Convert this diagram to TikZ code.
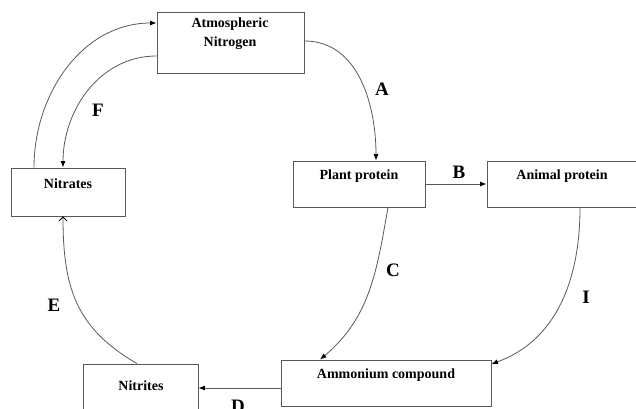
\documentclass[tikz,border=0pt]{standalone}
\usepackage{fontspec}
\setmainfont{Liberation Serif}
\usetikzlibrary{arrows.meta}
\begin{document}
\begin{tikzpicture}[x=1pt, y=1pt,
  box/.style={draw=black!65, line width=0.9pt, minimum width=#1, inner sep=0pt},
  txt/.style={font=\bfseries\fontsize{14}{19}\selectfont, align=center, inner sep=0pt},
  lbl/.style={font=\bfseries\fontsize{19}{19}\selectfont, inner sep=0pt},
  arr/.style={draw=black!65, line width=0.8pt, -{Latex[length=6.5pt,width=5pt,black]}},
  openarr/.style={draw=black!65, line width=0.8pt, -{Straight Barb[length=4pt,width=8pt,black]}}
]
  \useasboundingbox (0,0) rectangle (636,408);

  % --- Boxes ---
  \node[box=147pt, minimum height=61pt] (atm)      at (230.5,365.5) {};
  \node[box=114pt, minimum height=48pt] (nitrates) at (68,216)      {};
  \node[box=132pt, minimum height=46pt] (plant)    at (359,224)     {};
  \node[box=151pt, minimum height=46pt] (animal)   at (562.5,224)   {};
  \node[box=210pt, minimum height=46pt] (ammonium) at (386,25)      {};
  \node[box=115pt, minimum height=56pt] (nitrites) at (140.5,16)    {};

  \node[txt] (atm-t)      at (230,374.5) {Atmospheric\\Nitrogen};
  \node[txt] (nitrates-t) at (68,224)    {Nitrates};
  \node[txt] (plant-t)    at (359,232)   {Plant protein};
  \node[txt] (animal-t)   at (562,232)   {Animal protein};
  \node[txt] (ammonium-t) at (386,33)    {Ammonium compound};
  \node[txt] (nitrites-t) at (141,22)    {Nitrites};

  % --- Connectors ---
  \draw[arr] ([yshift=1.5pt]atm.east) to[out=0, in=90] ([xshift=17pt]plant.north);
  \draw[arr] (plant.east) -- (animal.west);
  \draw[arr] ([xshift=29pt]plant.south) to[out=-100, in=40] ([xshift=-66pt]ammonium.north);
  \draw[arr] ([xshift=17.5pt]animal.south) to[out=-90, in=20] ([yshift=19pt]ammonium.east);
  \draw[arr] ([yshift=-5pt]ammonium.west) -- ([yshift=-5pt]ammonium.west -| nitrites.east);
  \draw[openarr] ([xshift=-3.5pt]nitrites.north) to[out=150, in=-90, looseness=1.1] ([xshift=-5pt]nitrates.south);
  \draw[arr] ([xshift=-34pt]nitrates.north) to[out=90, in=180] ([yshift=19.5pt]atm.west);
  \draw[arr] ([yshift=-13.5pt]atm.west) to[out=180, in=90] ([xshift=-5pt]nitrates.north);

  % --- Labels ---
  \node[lbl] (lblA) at (382,319) {A};
  \node[lbl] (lblB) at (459,236) {B};
  \node[lbl] (lblC) at (393,138) {C};
  \node[lbl] (lblD) at (238,2)   {D};
  \node[lbl] (lblE) at (54,103)  {E};
  \node[lbl] (lblF) at (98,298)  {F};
  \node[lbl] (lblI) at (586,111) {I};
\end{tikzpicture}
\end{document}
